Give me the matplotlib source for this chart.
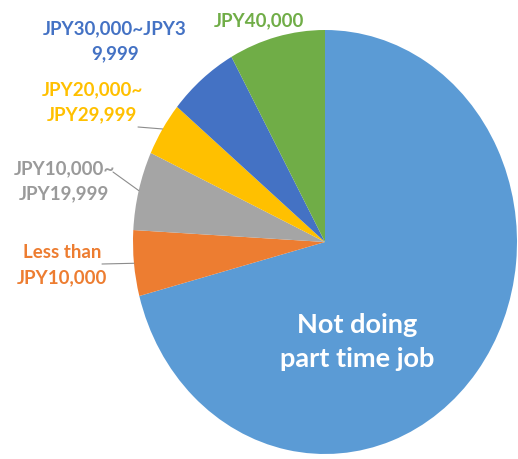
import numpy as np
import matplotlib
matplotlib.use("Agg")
import matplotlib.pyplot as plt

# share of students by monthly part-time income (%)
labels = ["Not doing\npart time job", "Less than\nJPY10,000", "JPY10,000~\nJPY19,999",
          "JPY20,000~\nJPY29,999", "JPY30,000~JPY3\n9,999", "JPY40,000"]
shares = [70.9, 5.0, 6.0, 4.1, 5.9, 8.1]
colors = ["#5B9BD5", "#ED7D31", "#A5A5A5", "#FFC000", "#4472C4", "#70AD47"]
text_colors = ["white", "#ED7D31", "#9A9A9A", "#FFC000", "#4472C4", "#70AD47"]

# where the outside labels sit (figure pixels from top-left)
label_pos = [None, (62, 265), (64, 181), (92, 102), (115, 41), (259, 21)]
# start of the leader line (figure pixels), None = no leader
leader_start = [None, (102, 264), (113, 172), (138, 127), None, None]

W, H = 518, 459
fig = plt.figure(figsize=(W / 100, H / 100), dpi=100)
# pie is a bit taller than wide in the reference
ax = fig.add_axes([133 / W, (H - 454) / H, 384 / W, 424 / H])

wedges, _ = ax.pie(shares, colors=colors, startangle=90, counterclock=False,
                   wedgeprops=dict(linewidth=0))
ax.set_aspect("auto")
ax.set_xlim(-1, 1)
ax.set_ylim(-1, 1)
ax.axis("off")

font = "Lato"

# big label inside the main slice
fig.text(357 / W, 1 - 342 / H, labels[0], color="white", fontsize=19.5, fontweight="bold",
         family=font, ha="center", va="center", linespacing=1.5)

for i in range(1, len(shares)):
    w = wedges[i]
    mid = np.deg2rad((w.theta1 + w.theta2) / 2)
    px, py = label_pos[i]
    fig.text(px / W, 1 - py / H, labels[i], color=text_colors[i],
             fontsize=13.5, fontweight="bold", family=font,
             ha="center", va="center", linespacing=1.6)
    if leader_start[i] is not None:
        sx, sy = leader_start[i]
        ax.annotate("", xy=(np.cos(mid), np.sin(mid)), xycoords="data",
                    xytext=(sx / W, 1 - sy / H), textcoords="figure fraction",
                    arrowprops=dict(arrowstyle="-", color="#8C8C8C", lw=0.8,
                                    shrinkA=0, shrinkB=0))

fig.savefig("out.png", dpi=100)
